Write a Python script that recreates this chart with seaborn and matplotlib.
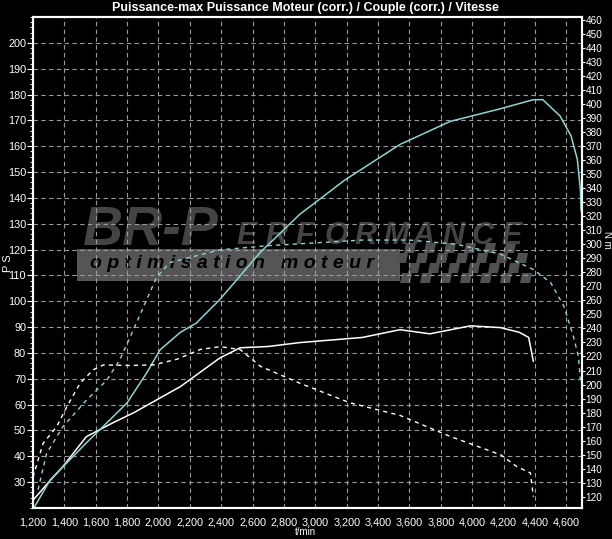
import matplotlib
matplotlib.use("Agg")
import matplotlib.pyplot as plt
import matplotlib.ticker as mticker
from matplotlib.patches import Rectangle, Polygon
import seaborn as sns
import pandas as pd

# ---------------- data ----------------
title = "Puissance-max Puissance Moteur (corr.) / Couple (corr.) / Vitesse"

# white solid : power (PS)
white_power_rpm = [1200, 1300, 1390, 1540, 1710, 1840, 1990, 2140, 2390, 2520,
                   2700, 2900, 3100, 3300, 3540, 3730, 3990, 4180, 4300, 4360, 4390]
white_power_ps = [23, 30, 36, 47.6, 53, 56.8, 61.9, 67, 78, 82,
                  82.5, 84, 85, 86, 89, 87.4, 90.5, 89.8, 88, 86, 76.7]

# cyan solid : power (PS)
cyan_power_rpm = [1210, 1310, 1540, 1690, 1800, 1925, 2010, 2140, 2240, 2390, 2650,
                  2900, 3190, 3540, 3860, 4180, 4390, 4450, 4560, 4630, 4670, 4690, 4694]
cyan_power_ps = [20.5, 30.9, 45.2, 54.1, 60.7, 72.3, 81.2, 88, 91.5, 100.6, 119,
                 133.6, 147, 160.7, 169.6, 174.5, 178, 178, 171.7, 164, 155, 143, 135]

# cyan dashed : torque (Nm)
cyan_torque_rpm = [1232, 1287, 1391, 1542, 1670, 1755, 1840, 1925, 1990, 2074, 2390,
                   2700, 3000, 3300, 3600, 3900, 4180, 4390, 4500, 4584, 4646, 4677, 4690]
cyan_torque_nm = [125, 151, 170, 189, 203, 218, 239, 260.6, 277, 287, 296,
                  299, 301, 303, 303, 300, 293, 282, 272.7, 256, 234, 220, 203]

# white dashed : torque (Nm)
white_torque_rpm = [1200, 1264, 1351, 1415, 1500, 1585, 1649, 1820, 1967, 2117, 2266,
                    2393, 2520, 2650, 2900, 3220, 3540, 3860, 4180, 4285, 4371, 4390]
white_torque_nm = [134, 158, 170, 184, 201, 210.6, 214, 213.6, 214, 218, 225,
                   227, 225, 213, 201, 187, 178, 163, 150, 141.5, 137, 120]

x_ticks = list(range(1200, 4601, 200))
ps_ticks = list(range(30, 201, 10))
nm_ticks = list(range(120, 461, 10))
x_label = "t/min"
ps_label = "P S"
nm_label = "N m"
logo_big = "BR-P"
logo_rest = "ERFORMANCE"
logo_sub = "o p t i m i s a t i o n   m o t e u r"

# ---------------- style ----------------
sns.set_style("dark")
plt.rcParams["font.family"] = ["Liberation Sans", "DejaVu Sans"]
plt.rcParams["axes.facecolor"] = "black"
plt.rcParams["figure.facecolor"] = "black"

W, H = 612, 539
fig = plt.figure(figsize=(W / 100, H / 100), dpi=100)
L, R, B, T = 33, 582, 508, 17
ax = fig.add_axes([L / W, 1 - B / H, (R - L) / W, (B - T) / H])
ax.set_facecolor("black")
ax2 = ax.twinx()

df_wp = pd.DataFrame({"rpm": white_power_rpm, "val": white_power_ps})
df_cp = pd.DataFrame({"rpm": cyan_power_rpm, "val": cyan_power_ps})
df_ct = pd.DataFrame({"rpm": cyan_torque_rpm, "val": cyan_torque_nm})
df_wt = pd.DataFrame({"rpm": white_torque_rpm, "val": white_torque_nm})

cyan = "#8fd3d3"
sns.lineplot(data=df_wp, x="rpm", y="val", ax=ax, color="white", lw=1.1, zorder=5)
sns.lineplot(data=df_cp, x="rpm", y="val", ax=ax, color=cyan, lw=1.1, zorder=5)
sns.lineplot(data=df_wt, x="rpm", y="val", ax=ax2, color="white", lw=1.0,
             linestyle=(0, (3, 3)), zorder=5)
sns.lineplot(data=df_ct, x="rpm", y="val", ax=ax2, color=cyan, lw=1.0,
             linestyle=(0, (3, 3)), zorder=5)

ax.set_xlim(1200, 4700)
ax.set_ylim(20, 210)
ax2.set_ylim(112, 462)

ax.set_xticks(x_ticks)
ax.xaxis.set_major_formatter(mticker.FuncFormatter(lambda v, p: f"{int(v):,}"))
ax.set_yticks(ps_ticks)
ax.yaxis.set_minor_locator(mticker.MultipleLocator(2))
ax2.set_yticks(nm_ticks)

for a in (ax, ax2):
    a.set_xlabel("")
    a.set_ylabel("")
    for s in a.spines.values():
        s.set_color("white")
        s.set_linewidth(1.5)
    a.tick_params(colors="white", labelsize=7.8, length=4, width=0.8)
ax.tick_params(axis="y", which="minor", length=2, color="white", left=True)
ax.tick_params(axis="x", pad=3)
ax.tick_params(axis="y", pad=1)
ax2.tick_params(axis="y", pad=0.5, length=2, labelsize=7.2)

ax.grid(True, color="#9a9a9a", linestyle=(0, (4, 3)), linewidth=0.8)
ax.set_axisbelow(True)
ax2.grid(False)

# ---------------- watermark logo ----------------
def fx(px):
    return (px - L) / (R - L)

def fy(py):
    return (B - py) / (B - T)

ax.add_patch(Rectangle((fx(77), fy(281)), fx(400) - fx(77), fy(249) - fy(281),
                       transform=ax.transAxes, color="#555555", zorder=0.2, lw=0))
cell = 10
for row in range(4):
    for col in range(13):
        if (row + col) % 2 == 0:
            x0 = 400 + col * cell - row * 2
            y0 = 283 - row * cell
            pts = [(x0, y0), (x0 + cell, y0), (x0 + cell + 2, y0 - cell), (x0 + 2, y0 - cell)]
            ax.add_patch(Polygon([(fx(p), fy(q)) for p, q in pts], closed=True,
                                 transform=ax.transAxes, color="#505050",
                                 zorder=0.2, lw=0))
ax.text(fx(82), fy(231), logo_big, transform=ax.transAxes, fontsize=40,
        fontweight="bold", style="italic", color="#444444", va="center",
        ha="left", zorder=0.3)
for i, ch in enumerate(logo_rest):
    ax.text(fx(236 + i * 29.5), fy(236), ch, transform=ax.transAxes, fontsize=22,
            fontweight="bold", style="italic", color="#444444", va="center",
            ha="left", zorder=0.3)
ax.text(fx(90), fy(264), logo_sub, transform=ax.transAxes, fontsize=14,
        fontweight="bold", style="italic", color="black", va="center",
        ha="left", zorder=0.3)

# ---------------- texts ----------------
fig.text(305 / W, 1 - 8 / H, title, color="white", fontsize=9, fontweight="bold",
         ha="center", va="center")
fig.text(305 / W, 1 - 532 / H, x_label, color="white", fontsize=7,
         ha="center", va="center")
fig.text(8 / W, 1 - 263 / H, ps_label, color="white", fontsize=8, rotation=90,
         ha="center", va="center")
fig.text(607 / W, 1 - 240 / H, nm_label, color="white", fontsize=7, rotation=270,
         ha="center", va="center")

fig.savefig("out.png", dpi=100, facecolor="black")
